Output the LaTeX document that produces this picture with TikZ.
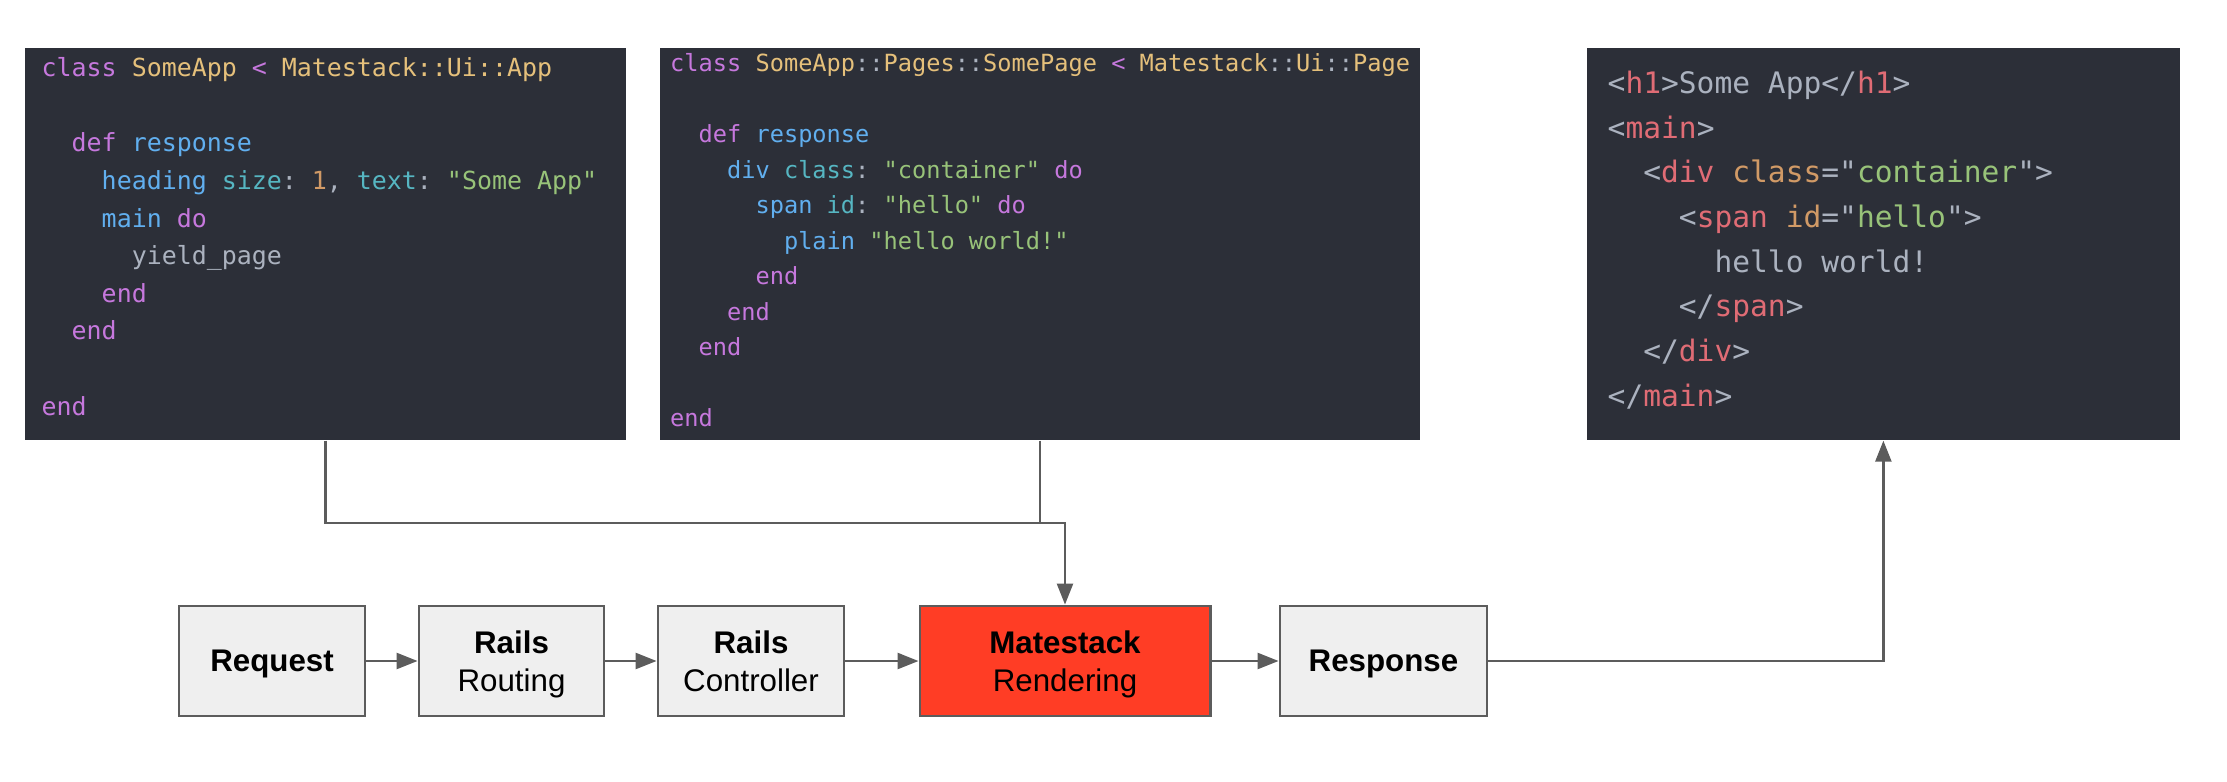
\documentclass[tikz,border=0pt]{standalone}
\usepackage{fontspec}
\setmainfont{Liberation Sans}
\setmonofont{DejaVu Sans Mono}
\usetikzlibrary{arrows.meta,positioning,calc}

\definecolor{codebg}{HTML}{2C2F38}
\definecolor{cpurple}{HTML}{C678DD}
\definecolor{cyellow}{HTML}{E5C07B}
\definecolor{cblue}{HTML}{61AFEF}
\definecolor{ccyan}{HTML}{56B6C2}
\definecolor{corange}{HTML}{D19A66}
\definecolor{cgreen}{HTML}{98C379}
\definecolor{cred}{HTML}{E06C75}
\definecolor{cgray}{HTML}{ABB2BF}
\definecolor{boxgray}{HTML}{EFEFEF}
\definecolor{linegray}{HTML}{5C5C5C}
\definecolor{renderred}{HTML}{FF3D25}

\newcommand{\kw}[1]{\textcolor{cpurple}{#1}}
\newcommand{\cls}[1]{\textcolor{cyellow}{#1}}
\newcommand{\fn}[1]{\textcolor{cblue}{#1}}
\newcommand{\sym}[1]{\textcolor{ccyan}{#1}}
\newcommand{\num}[1]{\textcolor{corange}{#1}}
\newcommand{\str}[1]{\textcolor{cgreen}{#1}}
\newcommand{\htag}[1]{\textcolor{cred}{#1}}
\newcommand{\attr}[1]{\textcolor{corange}{#1}}
\newcommand{\ind}[1]{\hspace*{#1\fontcharwd\font`0}}

\tikzset{
  codebox/.style={fill=codebg, inner sep=0, anchor=north west},
  code/.style={anchor=north west, inner sep=0, align=left, text=cgray},
  stage/.style={draw=linegray, line width=0.8pt, fill=boxgray, inner sep=0,
    minimum height=1.1cm, align=center, text depth=0pt, font=\fontsize{8.9}{10.8}\selectfont},
  flow/.style={draw=linegray, line width=0.7pt, -{Triangle[length=0.21cm,width=0.16cm]}},
  wire/.style={draw=linegray, line width=0.7pt}
}

\begin{document}
\begin{tikzpicture}[x=0.01cm,y=-0.01cm]
        \useasboundingbox (0,0) rectangle (2227,782);
        %code boxes
        \node[codebox, minimum width=6.01cm, minimum height=3.92cm] (app) at (24,47) {};
        \node[codebox, minimum width=7.60cm, minimum height=3.92cm] (page) at (659,47) {};
        \node[codebox, minimum width=5.93cm, minimum height=3.92cm] (html) at (1586,47) {};
        \node[code, font=\ttfamily\fontsize{7.09}{10.69}\selectfont] at ($(app.north west)+(17,10)$) {%
\kw{class} \cls{SomeApp} \kw{<} \cls{Matestack::Ui::App}\\
\mbox{}\\
\ind{2}\kw{def} \fn{response}\\
\ind{4}\fn{heading} \sym{size}: \num{1}, \sym{text}: \str{"Some App"}\\
\ind{4}\fn{main} \kw{do}\\
\ind{6}yield\_page\\
\ind{4}\kw{end}\\
\ind{2}\kw{end}\\
\mbox{}\\
\kw{end}};
        \node[code, font=\ttfamily\fontsize{6.72}{10.1}\selectfont] at ($(page.north west)+(10.5,6)$) {%
\kw{class} \cls{SomeApp}::\cls{Pages}::\cls{SomePage} \kw{<} \cls{Matestack}::\cls{Ui}::\cls{Page}\\
\mbox{}\\
\ind{2}\kw{def} \fn{response}\\
\ind{4}\fn{div} \sym{class}: \str{"container"} \kw{do}\\
\ind{6}\fn{span} \sym{id}: \str{"hello"} \kw{do}\\
\ind{8}\fn{plain} \str{"hello world!"}\\
\ind{6}\kw{end}\\
\ind{4}\kw{end}\\
\ind{2}\kw{end}\\
\mbox{}\\
\kw{end}};
        \node[code, font=\ttfamily\fontsize{8.41}{12.7}\selectfont] at ($(html.north west)+(21,23.5)$) {%
<\htag{h1}>Some App</\htag{h1}>\\
<\htag{main}>\\
\ind{2}<\htag{div} \attr{class}="\str{container}">\\
\ind{4}<\htag{span} \attr{id}="\str{hello}">\\
\ind{6}hello world!\\
\ind{4}</\htag{span}>\\
\ind{2}</\htag{div}>\\
</\htag{main}>};
        %pipeline
        \node[stage, minimum width=1.86cm] (request) at (272,661) {\textbf{Request}};
        \node[stage, minimum width=1.85cm] (routing) at (511.5,661) {\textbf{Rails}\\Routing};
        \node[stage, minimum width=1.86cm] (controller) at (751,661) {\textbf{Rails}\\Controller};
        \node[stage, minimum width=2.90cm, fill=renderred] (render) at (1065,661) {\textbf{Matestack}\\Rendering};
        \node[stage, minimum width=2.07cm] (response) at (1383.5,661) {\textbf{Response}};
        %edges
        \coordinate (join) at (render.north |- 0,523);
        \path[flow] (request) -- (routing);
        \path[flow] (routing) -- (controller);
        \path[flow] (controller) -- (render);
        \path[flow] (render) -- (response);
        \path[wire] (page.south) -- (page.south |- join);
        \path[flow] (app.south) |- (join) -- (render.north);
        \path[flow] (response.east) -| (html.south);
      \end{tikzpicture}
\end{document}
